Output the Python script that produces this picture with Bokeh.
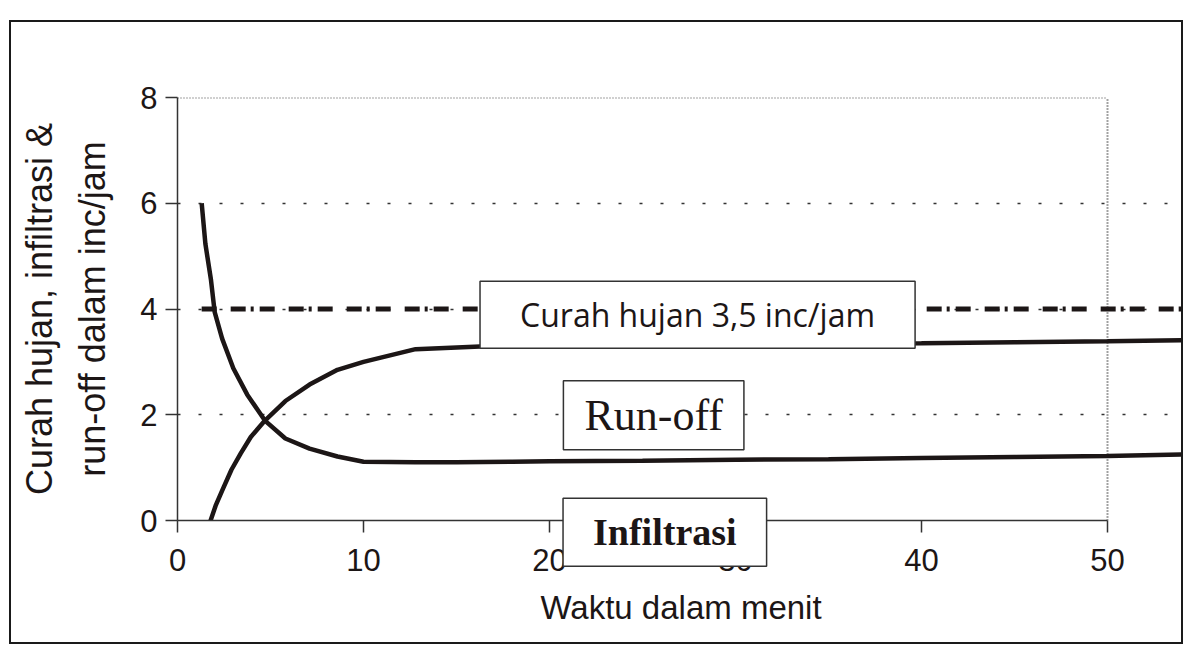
from bokeh.plotting import figure
from bokeh.models import Label, FixedTicker
from bokeh.embed import file_html
from bokeh.resources import INLINE

# ---- data ----
x_ticks = [0, 10, 20, 30, 40, 50]
y_ticks = [0, 2, 4, 6, 8]
grid_levels = [2, 4, 6]

infil_x = [1.3, 1.5, 1.8, 2.0, 2.4, 3.0, 3.75, 4.7, 5.8, 7.1, 8.6, 10, 12.8, 15, 18, 20, 25, 30, 35, 40, 45, 50, 54.1]
infil_y = [6.0, 5.23, 4.55, 3.94, 3.44, 2.88, 2.38, 1.89, 1.55, 1.36, 1.21, 1.11, 1.10, 1.10, 1.11, 1.12, 1.13, 1.15, 1.16, 1.18, 1.20, 1.22, 1.25]

runoff_x = [1.75, 2.05, 2.43, 2.9, 3.4, 3.94, 4.7, 5.8, 7.1, 8.6, 10, 12.8, 16.9, 20, 25, 30, 35, 40, 45, 50, 54.1]
runoff_y = [-0.03, 0.28, 0.59, 0.96, 1.27, 1.58, 1.89, 2.26, 2.57, 2.85, 3.0, 3.24, 3.3, 3.31, 3.32, 3.33, 3.34, 3.35, 3.37, 3.39, 3.41]

rain_x = [1.3, 54.1]
rain_y = [4.0, 4.0]

label_rain = "Curah hujan 3,5 inc/jam"
label_runoff = "Run-off"
label_infil = "Infiltrasi"

INK = "#1c1616"

p = figure(width=1174, height=624, x_range=(0, 54.14), y_range=(0, 8),
           output_backend="svg", toolbar_location=None,
           min_border_left=166, min_border_right=1, min_border_top=75, min_border_bottom=126)
p.styles = {"border": "2px solid #1a1a1a", "margin-left": "9px", "margin-top": "20px"}
p.outline_line_color = None
p.background_fill_color = "white"
p.border_fill_color = "white"

# axes
for ax in (p.xaxis[0], p.yaxis[0]):
    ax.major_tick_in = 0
    ax.major_tick_out = 12
    ax.minor_tick_line_color = None
    ax.axis_line_width = 1.5
    ax.axis_line_color = "#333"
    ax.major_tick_line_color = "#333"
    ax.major_tick_line_width = 1.5
    ax.major_label_text_font = "Liberation Sans"
    ax.major_label_text_font_size = "31px"
    ax.major_label_text_color = INK
    ax.axis_label_text_font = "Liberation Sans"
    ax.axis_label_text_font_style = "normal"
    ax.axis_label_text_color = INK

p.xaxis.ticker = FixedTicker(ticks=x_ticks)
p.xaxis.bounds = (x_ticks[0], x_ticks[-1])
p.xaxis.major_label_standoff = 16
p.xaxis.axis_label = "Waktu dalam menit"
p.xaxis.axis_label_text_font_size = "33px"
p.xaxis.axis_label_standoff = 15

p.yaxis.ticker = FixedTicker(ticks=y_ticks)
p.yaxis.major_label_standoff = 8
p.yaxis.axis_label = "Curah hujan, infiltrasi &\nrun-off dalam inc/jam"
p.yaxis.axis_label_text_font_size = "36px"
p.yaxis.axis_label_text_line_height = 1.3
p.yaxis.axis_label_standoff = 24

# grid
p.xgrid.visible = False
p.ygrid.ticker = FixedTicker(ticks=grid_levels)
p.ygrid.grid_line_color = "#333"
p.ygrid.grid_line_width = 1.5
p.ygrid.grid_line_dash = "3 18"

# dotted plot-area border (top and right)
p.line([x_ticks[0], x_ticks[-1]], [y_ticks[-1], y_ticks[-1]], line_color="#444", line_width=2, line_dash="1 2")
p.line([x_ticks[-1], x_ticks[-1]], [y_ticks[0], y_ticks[-1]], line_color="#444", line_width=2, line_dash="1 2")

# series
p.line(rain_x, rain_y, line_color=INK, line_width=5, line_dash="15 14 15 5 3 6")
p.line(infil_x, infil_y, line_color=INK, line_width=4.5)
p.line(runoff_x, runoff_y, line_color=INK, line_width=4.5)

# boxed labels
p.add_layout(Label(x=27.96, y=3.89, text=label_rain, text_align="center", text_baseline="middle",
                   text_font="Open Sans", text_font_size="32px", text_color=INK,
                   background_fill_color="white", border_line_color="#333", border_line_width=1.5,
                   padding=dict(left=40, right=40, top=12, bottom=12)))
p.add_layout(Label(x=25.6, y=1.99, text=label_runoff, text_align="center", text_baseline="middle",
                   text_font="Liberation Serif", text_font_size="44px", text_color=INK,
                   background_fill_color="white", border_line_color="#333", border_line_width=1.5,
                   padding=dict(left=21, right=21, top=10, bottom=10)))
# placed in a side panel so that the box may extend below the plot frame
p.add_layout(Label(x=26.2, y=-0.22, text=label_infil, text_align="center", text_baseline="middle",
                   text_font="Liberation Serif", text_font_style="bold", text_font_size="38px", text_color=INK,
                   background_fill_color="white", border_line_color="#333", border_line_width=1.5,
                   padding=dict(left=30, right=30, top=13, bottom=13)), "above")

open("out.html", "w").write(file_html(p, INLINE))
